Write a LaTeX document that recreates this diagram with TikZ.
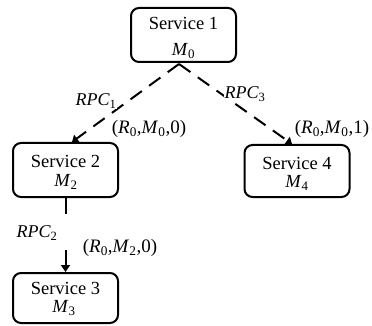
\documentclass[tikz,border=0pt]{standalone}
\usepackage{fontspec}
\setmainfont{Liberation Serif}
\usetikzlibrary{arrows.meta}
\newcommand\mvar[2]{\textit{#1}\textsubscript{#2}}
\begin{document}
\begin{tikzpicture}[x=1pt,y=-1pt,
 box/.style={draw, line width=2pt, rounded corners=8pt, minimum width=105pt, minimum height=52pt, inner sep=0pt},
 svc/.style={font=\fontsize{18.5}{22}\selectfont, inner sep=0pt},
 mlab/.style={font=\fontsize{18.5}{22}\selectfont, inner sep=1pt},
 lab/.style={font=\fontsize{18}{21}\selectfont, inner sep=1pt, fill=white},
 tup/.style={font=\fontsize{19}{22}\selectfont, inner sep=1pt},
 rpc/.style={line width=2pt, dash pattern=on 14pt off 9pt, -{Triangle[length=6pt,width=9pt]}},
 call/.style={line width=2pt, dash pattern=on 16pt off 36pt on 40pt, -{Triangle[length=7pt,width=9pt]}}]
\useasboundingbox (0,0) rectangle (372,326);
% Service 1
\node[box, minimum height=54pt] (s1) at (183.5,35) {};
\node[svc] (t1) at (183.5,23) {Service 1};
\node[mlab, fill=white] (m1) at (183.5,51) {\mvar{M}{0}};
% Service 2
\node[box, minimum height=54pt] (s2) at (65.5,170) {};
\node[svc] (t2) at (65.5,161) {Service 2};
\node[mlab, fill=white] (m2) at (66,182) {\mvar{M}{2}};
% Service 4
\node[box] (s4) at (297,171) {};
\node[svc] (t4) at (297,163) {Service 4};
\node[mlab] (m4) at (297,183) {\mvar{M}{4}};
% Service 3
\node[box, minimum height=50pt] (s3) at (65.5,298) {};
\node[svc] (t3) at (65.5,288) {Service 3};
\node[mlab, fill=white] (m3) at (64,308) {\mvar{M}{3}};
% connectors
\coordinate (apex) at (179,64);
\draw[rpc] (apex) -- ([xshift=6.5pt]s2.north);
\draw[rpc] (apex) -- ([xshift=-5pt]s4.north);
\draw[call] (s2.south) -- (s3.north);
% labels
\node[lab] (l1) at (96,101) {\mvar{RPC}{1}};
\node[lab] (l3) at (245,94) {\mvar{RPC}{3}};
\node[lab] (l2) at (37,233) {\mvar{RPC}{2}};
\node[tup] (a1) at (149,129) {(\mvar{R}{0},\mvar{M}{0},0)};
\node[tup] (a4) at (332,129) {(\mvar{R}{0},\mvar{M}{0},1)};
\node[tup] (a2) at (120,248) {(\mvar{R}{0},\mvar{M}{2},0)};
\end{tikzpicture}
\end{document}
